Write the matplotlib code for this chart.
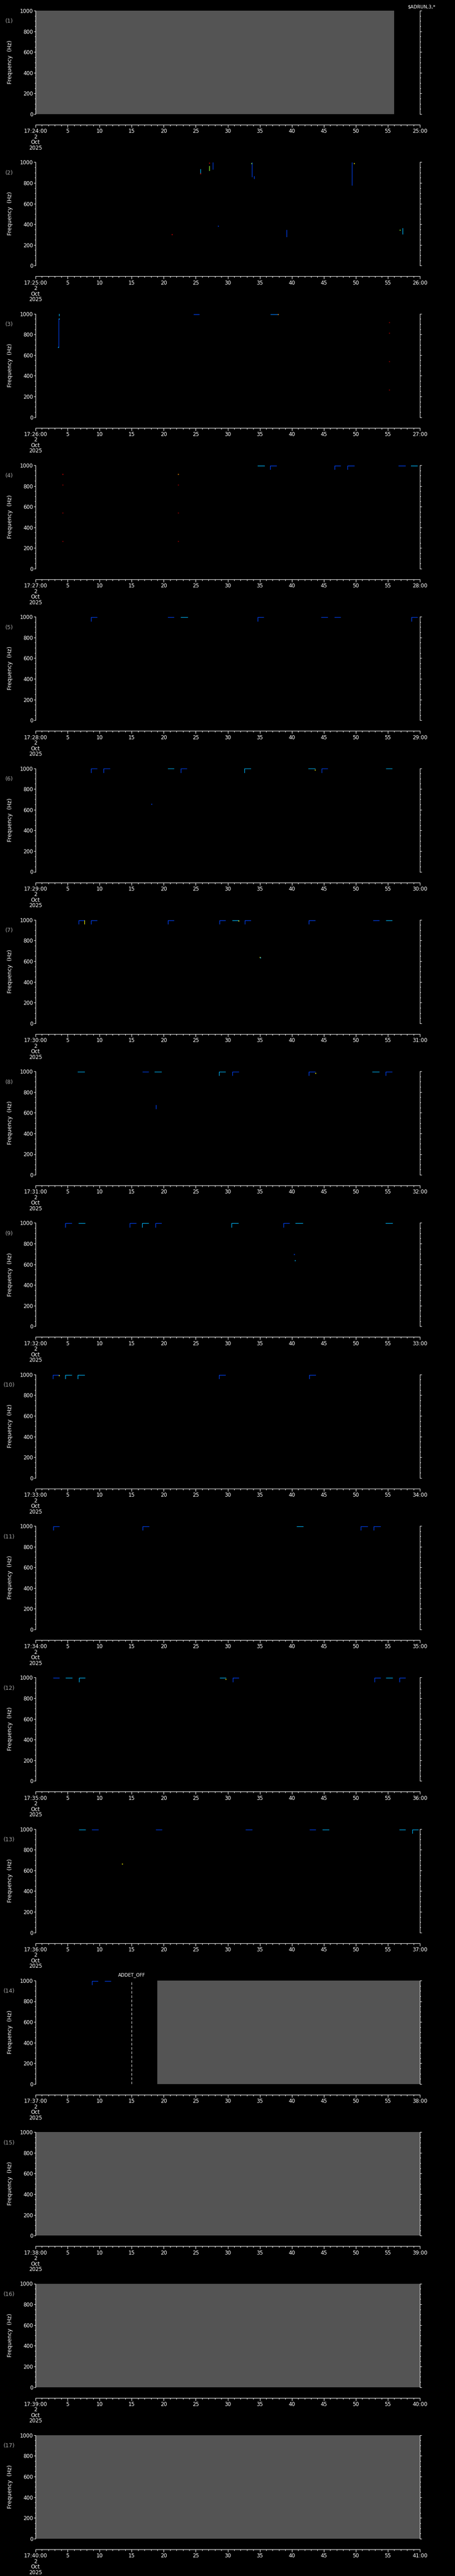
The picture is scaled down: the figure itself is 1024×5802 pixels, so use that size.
import matplotlib
matplotlib.use("Agg")
import matplotlib.pyplot as plt
from matplotlib.ticker import MultipleLocator

W, H = 1024, 5802

# one panel per minute, 17:24 .. 17:40
start_minutes = list(range(24, 41))

# shaded (no data) time spans: (panel, t0, t1) in seconds
gray_spans = [(1, 0, 56), (14, 19, 60), (15, 0, 60), (16, 0, 60), (17, 0, 60)]

# short bursts at the top of the band: (panel, t0, t1, hook, colour)
bursts = [
    (3, 24.7, 25.5, False, 'b'), (3, 36.7, 37.9, False, 'l'),
    (4, 34.7, 35.7, False, 'c'), (4, 36.6, 37.6, True, 'b'), (4, 46.7, 47.6, True, 'b'),
    (4, 48.7, 49.7, True, 'b'), (4, 56.7, 57.7, False, 'b'), (4, 58.6, 59.6, False, 'c'),
    (5, 8.66, 9.6, True, 'b'), (5, 20.7, 21.6, False, 'b'), (5, 22.65, 23.7, False, 'c'),
    (5, 34.7, 35.6, True, 'b'), (5, 44.6, 45.6, False, 'b'), (5, 46.7, 47.6, False, 'b'),
    (5, 58.7, 59.6, True, 'b'),
    (6, 8.66, 9.6, True, 'b'), (6, 10.6, 11.6, True, 'b'), (6, 20.7, 21.6, False, 'c'),
    (6, 22.65, 23.6, True, 'b'), (6, 32.6, 33.6, True, 'c'), (6, 42.6, 43.6, False, 'c'),
    (6, 44.7, 45.6, True, 'b'), (6, 54.7, 55.6, False, 'c'),
    (7, 6.7, 7.6, True, 'b'), (7, 8.66, 9.6, True, 'b'), (7, 20.7, 21.6, True, 'b'),
    (7, 28.7, 29.6, True, 'b'), (7, 30.7, 31.7, False, 'c'), (7, 32.7, 33.6, True, 'b'),
    (7, 42.65, 43.6, True, 'b'), (7, 52.7, 53.6, False, 'b'), (7, 54.7, 55.6, False, 'c'),
    (8, 6.6, 7.6, False, 'c'), (8, 16.7, 17.6, False, 'b'), (8, 18.6, 19.6, False, 'c'),
    (8, 28.65, 29.6, True, 'c'), (8, 30.7, 31.7, True, 'b'), (8, 42.65, 43.6, True, 'b'),
    (8, 52.6, 53.6, False, 'c'), (8, 54.65, 55.6, True, 'b'),
    (9, 4.64, 5.6, True, 'b'), (9, 6.7, 7.7, False, 'c'), (9, 14.7, 15.7, True, 'b'),
    (9, 16.65, 17.6, True, 'c'), (9, 18.7, 19.6, True, 'b'), (9, 30.6, 31.6, True, 'c'),
    (9, 38.7, 39.6, True, 'b'), (9, 40.6, 41.7, False, 'c'), (9, 54.65, 55.7, False, 'c'),
    (10, 2.7, 3.66, True, 'b'), (10, 4.68, 5.6, True, 'c'), (10, 6.6, 7.6, True, 'c'),
    (10, 28.65, 29.6, True, 'b'), (10, 42.7, 43.7, True, 'b'),
    (11, 2.77, 3.7, True, 'b'), (11, 16.7, 17.7, True, 'b'), (11, 40.8, 41.75, False, 'c'),
    (11, 50.8, 51.8, True, 'b'), (11, 52.8, 53.8, True, 'b'),
    (12, 2.77, 3.7, False, 'b'), (12, 4.7, 5.7, False, 'c'), (12, 6.8, 7.7, True, 'c'),
    (12, 28.8, 29.7, False, 'c'), (12, 30.8, 31.7, True, 'b'), (12, 52.9, 53.8, True, 'b'),
    (12, 54.7, 55.7, False, 'c'), (12, 56.8, 57.7, True, 'b'),
    (13, 6.8, 7.75, False, 'c'), (13, 8.8, 9.8, False, 'b'), (13, 18.8, 19.7, False, 'b'),
    (13, 32.8, 33.8, False, 'b'), (13, 42.8, 43.7, False, 'b'), (13, 44.8, 45.75, False, 'c'),
    (13, 56.8, 57.7, False, 'c'), (13, 58.8, 59.75, True, 'c'),
    (14, 8.8, 9.7, True, 'b'), (14, 10.8, 11.7, False, 'b'),
]

# vertical streaks: (panel, t, f_low, f_high, colour)
streaks = [
    (2, 25.7, 890, 933, 'c'), (2, 27.1, 919, 964, 'g'), (2, 27.7, 933, 997, 'b'),
    (2, 33.8, 861, 997, 'b'), (2, 34.1, 844, 862, 'b'), (2, 39.2, 280, 344, 'b'),
    (2, 49.4, 776, 997, 'b'), (2, 57.3, 304, 361, 'c'),
    (3, 3.6, 677, 951, 'b'), (3, 3.7, 980, 997, 'c'),
    (7, 7.6, 960, 995, 'y'),
    (8, 18.8, 640, 675, 'b'),
]

# isolated spots: (panel, t, f, colour)
spots = [
    (2, 21.3, 301, 'r'), (2, 25.7, 890, 'r'), (2, 27.1, 993, 'r'), (2, 28.5, 383, 'b'),
    (2, 33.7, 990, 'g'), (2, 49.7, 990, 'y'), (2, 56.9, 343, 'g'),
    (3, 3.55, 677, 'c'), (3, 3.65, 951, 'c'), (3, 37.9, 995, 'o'),
    (3, 55.2, 916, 'd'), (3, 55.2, 812, 'd'), (3, 55.2, 539, 'd'), (3, 55.2, 265, 'd'),
    (4, 4.2, 912, 'r'), (4, 4.2, 810, 'd'), (4, 4.2, 539, 'd'), (4, 4.2, 266, 'd'),
    (4, 22.3, 912, 'o'), (4, 22.3, 810, 'd'), (4, 22.3, 539, 'd'), (4, 22.3, 266, 'd'),
    (6, 18.1, 653, 'b'), (6, 43.6, 985, 'y'),
    (7, 35.0, 640, 'y'), (7, 35.1, 636, 'c'), (7, 31.7, 990, 'y'),
    (8, 43.7, 985, 'y'),
    (9, 40.4, 698, 'b'), (9, 40.5, 636, 'c'),
    (10, 3.66, 990, 'y'),
    (12, 29.7, 985, 'y'),
    (13, 13.5, 665, 'y'),
]

# event marker lines: (panel, t, label)
events = [(14, 15.0, 'ADDET_OFF')]

palette = {'b': '#0044ff', 'c': '#00b8ff', 'l': '#0080ff', 'g': '#90ff30',
           'y': '#ffff00', 'r': '#e00000', 'd': '#a00000', 'o': '#ff9000'}

plt.rcParams['font.family'] = ['DejaVu Sans']
fig = plt.figure(figsize=(W / 100, H / 100), dpi=100, facecolor='black')

for i, minute in enumerate(start_minutes):
    p = i + 1
    top = 24 + i * 341.3
    ax = fig.add_axes([80 / W, 1 - (top + 233) / H, 865 / W, 233 / H])
    ax.set_facecolor('black')
    ax.set_xlim(0, 60)
    ax.set_ylim(0, 1000)
    for s in ('top', 'bottom'):
        ax.spines[s].set_visible(False)
    for s in ('left', 'right'):
        ax.spines[s].set_color('white')
        ax.spines[s].set_linewidth(0.8)
    ax.set_xticks([])
    ax.yaxis.set_major_locator(MultipleLocator(200))
    ax.yaxis.set_minor_locator(MultipleLocator(50))
    ax.tick_params(axis='y', which='both', colors='white', left=True, right=True,
                   direction='out', labelsize=8.5, pad=1, width=0.8)
    ax.tick_params(axis='y', which='major', length=3)
    ax.tick_params(axis='y', which='minor', length=1.6)

    for gp, t0, t1 in gray_spans:
        if gp == p:
            ax.axvspan(t0, t1, color='#545454', lw=0)
    for bp, t0, t1, hook, c in bursts:
        if bp == p:
            if hook:
                ax.plot([t0, t0, t1], [960, 996, 996], color=palette[c], lw=0.9)
            else:
                ax.plot([t0, t1], [996, 996], color=palette[c], lw=0.9)
    for sp, t, f0, f1, c in streaks:
        if sp == p:
            ax.plot([t, t], [f0, f1], color=palette[c], lw=0.9)
    for sp, t, f, c in spots:
        if sp == p:
            ax.plot(t, f, 's', color=palette[c], ms=1.6, mec='none')
    for ep, t, label in events:
        if ep == p:
            ax.axvline(t, color='white', lw=0.7, ls=(0, (6, 4)))
            ax.text(t, 1030, label, color='white', fontsize=7.5, ha='center',
                    va='bottom', clip_on=False)

    fig.text(21 / W, 1 - (top + 24) / H, f'({p})', color='#a8a8a8',
             fontsize=9, ha='center', va='center')
    fig.text(23 / W, 1 - (top + 116) / H, 'Frequency  (Hz)', color='white',
             fontsize=9, rotation=90, ha='center', va='center')

    # time axis below the panel
    tax = fig.add_axes([80 / W, 1 - (top + 257) / H, 865 / W, 0.0001])
    tax.set_facecolor('none')
    for s in ('top', 'left', 'right'):
        tax.spines[s].set_visible(False)
    tax.spines['bottom'].set_color('white')
    tax.spines['bottom'].set_linewidth(0.8)
    tax.set_xlim(0, 60)
    tax.set_yticks([])
    tax.xaxis.set_minor_locator(MultipleLocator(1))
    ticks = list(range(0, 61, 5))
    labels = [f'17:{minute:02d}:00\n2\nOct\n2025'] + [str(t) for t in ticks[1:-1]] \
        + [f'{minute + 1}:00']
    tax.set_xticks(ticks)
    tax.set_xticklabels(labels)
    tax.tick_params(axis='x', which='both', colors='white', direction='out',
                    labelsize=8.5, pad=2, width=0.8)
    tax.tick_params(axis='x', which='major', length=4)
    tax.tick_params(axis='x', which='minor', length=2.4)
    for lbl in tax.get_xticklabels():
        lbl.set_linespacing(0.95)

fig.text(917 / W, 1 - 15 / H, r'\$ADRUN,3,*', color='white', fontsize=7.5,
         ha='left', va='center')

fig.savefig('out.png', dpi=100, facecolor='black')
